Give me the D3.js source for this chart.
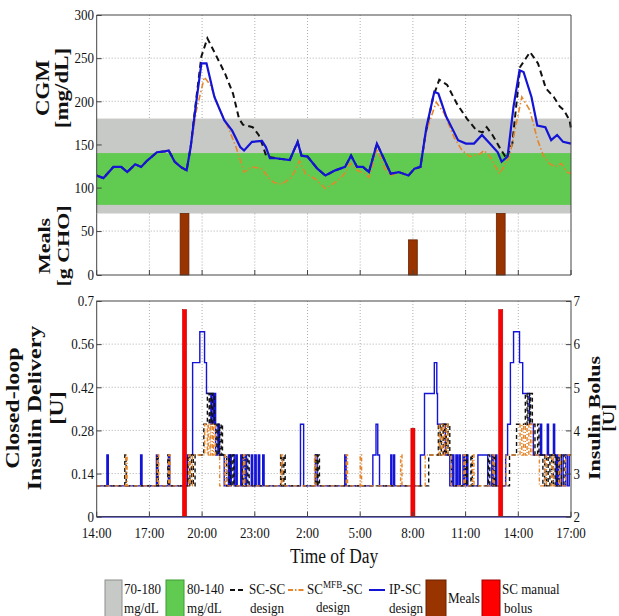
<!DOCTYPE html>
<html>
<head>
<meta charset="utf-8">
<script src="https://cdn.jsdelivr.net/npm/d3@7"></script>
<style>
  body { margin: 0; background: #fff; }
  svg { display: block; }
  text { font-family: "Liberation Serif", "Times New Roman", serif; fill: #111; }
</style>
</head>
<body>
<script>
const width = 619;
const height = 616;

// axis ticks (clock hours continue past midnight: 26 = 2:00 next day)
const hourTicks = [14, 17, 20, 23, 26, 29, 32, 35, 38, 41];
const hourLabels = ["14:00", "17:00", "20:00", "23:00", "2:00", "5:00", "8:00", "11:00", "14:00", "17:00"];
const cgmTicks = [100, 150, 200, 250, 300];
const mealTicks = [0, 50];
const deliveryTicks = [0, 0.14, 0.28, 0.42, 0.56, 0.7];
const bolusTicks = [2, 3, 4, 5, 6, 7];

// target bands [low, high]
const bandGrey = [70, 180];
const bandGreen = [80, 140];

// meals and manual boluses
const mealHours = [19, 32, 37];
const mealCarbs = [70, 40, 70];
const bolusHours = [19, 32, 37];
const bolusUnits = [6.8, 4.05, 6.8];

// CGM traces
const ipscHours = [14, 14.38, 14.95, 15.4, 15.74, 16.19, 16.53, 16.86, 17.43, 17.88, 18.1, 18.44, 18.78, 19.12, 19.35, 19.68, 19.96, 20.25, 20.7, 21.26, 21.71, 22.17, 22.39, 22.84, 23.41, 23.63, 23.86, 24.2, 24.99, 25.44, 25.66, 26, 26.56, 27.02, 27.58, 28.14, 28.48, 28.82, 29.16, 29.5, 29.95, 30.29, 30.74, 31.19, 31.75, 32.09, 32.43, 32.77, 33.22, 33.45, 33.9, 34.35, 34.57, 35.02, 35.48, 35.93, 36.38, 36.83, 37.05, 37.39, 37.73, 38.07, 38.3, 38.75, 39.08, 39.54, 39.87, 40.21, 40.55, 41];
const ipscCgm = [114, 111, 124, 124, 118, 127, 124, 131, 141, 142, 143, 130, 124, 120, 147, 201, 244, 244, 205, 178, 166, 147, 143, 153, 154, 147, 134, 134, 132, 153, 137, 136, 122, 114, 120, 124, 137, 124, 124, 118, 151, 136, 116, 118, 114, 122, 124, 170, 211, 209, 182, 164, 155, 151, 151, 161, 151, 141, 130, 136, 194, 236, 234, 205, 172, 170, 155, 161, 153, 151];

const scscHours = [14, 14.38, 14.95, 15.4, 15.74, 16.19, 16.53, 16.86, 17.43, 17.88, 18.1, 18.44, 18.78, 19.12, 19.35, 19.68, 19.96, 20.3, 20.75, 21.31, 21.76, 22.1, 22.32, 22.88, 23.22, 23.43, 23.66, 24.2, 24.99, 25.44, 25.66, 26, 26.56, 27.02, 27.58, 28.14, 28.48, 28.82, 29.16, 29.5, 29.95, 30.29, 30.74, 31.19, 31.75, 32.09, 32.43, 32.7, 33.15, 33.5, 33.95, 34.51, 35.07, 35.63, 35.97, 36.2, 36.53, 36.98, 37.32, 37.66, 38.11, 38.67, 39.12, 39.57, 40.02, 40.36, 40.59, 40.92, 41];
const scscCgm = [114, 111, 124, 124, 118, 127, 124, 131, 141, 142, 143, 130, 124, 120, 147, 205, 252, 273, 255, 232, 209, 180, 173, 170, 161, 150, 136, 134, 132, 153, 137, 136, 122, 114, 120, 124, 137, 124, 124, 118, 151, 136, 116, 118, 114, 122, 124, 160, 205, 225, 219, 197, 180, 166, 164, 170, 161, 145, 134, 151, 240, 257, 244, 215, 205, 194, 190, 178, 168];

const mfbHours = [14, 14.38, 14.95, 15.4, 15.74, 16.19, 16.53, 16.86, 17.43, 17.88, 18.1, 18.44, 18.78, 19.12, 19.35, 19.68, 20.13, 20.47, 20.92, 21.48, 21.93, 22.39, 22.84, 23.41, 23.75, 24.09, 24.54, 25.1, 25.55, 25.89, 26.45, 27.02, 27.58, 28.03, 28.44, 28.82, 29.27, 29.5, 29.95, 30.4, 30.74, 31.19, 31.75, 32.09, 32.43, 32.77, 33.33, 33.78, 34.35, 34.8, 35.25, 35.82, 36.05, 36.38, 36.94, 37.5, 37.84, 38.2, 38.65, 39.1, 39.43, 39.77, 40.1, 40.44, 40.78, 41];
const mfbCgm = [114, 111, 124, 124, 118, 127, 124, 131, 141, 142, 143, 130, 124, 120, 147, 190, 228, 219, 194, 170, 147, 118, 124, 122, 112, 106, 104, 112, 131, 116, 110, 99, 106, 114, 128, 120, 116, 112, 145, 122, 114, 118, 114, 122, 124, 166, 199, 186, 158, 143, 136, 139, 143, 136, 116, 136, 170, 205, 190, 155, 137, 128, 124, 128, 118, 116];

// closed-loop insulin delivery, [hour, U] change points (held until next point)
const ipscDelivery = [[14, 0.1], [14.58, 0.2], [14.66, 0.1], [16.5, 0.2], [16.58, 0.1], [17.4, 0.2], [17.48, 0.1], [18.08, 0.2], [18.16, 0.1],
  [19.17, 0.2], [19.46, 0.5], [19.87, 0.6], [20.14, 0.5], [20.25, 0.4], [20.5, 0.3], [20.56, 0.4], [20.66, 0.3], [20.72, 0.4], [20.77, 0.2], [20.9, 0.3], [20.98, 0.2], [21.26, 0.1],
  [21.5, 0.2], [21.58, 0.1], [21.66, 0.2], [21.83, 0.1], [21.92, 0.2], [22.0, 0.1], [22.2, 0.2], [22.28, 0.1], [22.45, 0.2], [22.53, 0.1], [22.8, 0.2], [22.88, 0.1], [23.0, 0.2], [23.08, 0.1], [23.2, 0.2], [23.28, 0.1], [23.45, 0.2], [23.53, 0.1],
  [25.6, 0.3], [25.78, 0.1], [26.45, 0.2], [26.55, 0.1], [28.12, 0.2], [28.2, 0.1], [29.72, 0.2], [29.9, 0.3], [30.0, 0.2], [30.1, 0.1], [30.74, 0.2], [30.8, 0.1], [30.9, 0.2], [30.96, 0.1],
  [32.43, 0.2], [32.66, 0.4], [33.22, 0.5], [33.36, 0.4], [33.4, 0.3], [33.85, 0.2], [34.1, 0.1],
  [34.25, 0.2], [34.33, 0.1], [34.45, 0.2], [34.53, 0.1], [34.62, 0.2], [34.7, 0.1], [34.85, 0.2], [34.93, 0.1], [35.05, 0.2], [35.13, 0.1], [35.7, 0.2], [36.26, 0.1], [36.49, 0.2], [36.57, 0.1], [36.7, 0.2], [36.78, 0.1],
  [37.28, 0.2], [37.39, 0.3], [37.55, 0.5], [37.73, 0.6], [38.07, 0.5], [38.25, 0.4], [38.63, 0.3], [38.86, 0.2], [39.26, 0.3], [39.33, 0.2], [39.65, 0.3], [39.72, 0.2], [40.0, 0.3], [40.07, 0.2],
  [40.15, 0.1], [40.22, 0.2], [40.3, 0.1], [40.45, 0.2], [40.55, 0.1], [40.7, 0.2], [40.8, 0.1], [40.9, 0.2], [41, 0.2]];

const scscDelivery = [[14, 0.1], [15.6, 0.2], [15.68, 0.1], [17.43, 0.2], [17.5, 0.1], [18.05, 0.2], [18.12, 0.1],
  [19.2, 0.2], [19.3, 0.1], [19.4, 0.2], [19.5, 0.1], [19.6, 0.2], [20.1, 0.3], [20.3, 0.4], [20.4, 0.3], [20.45, 0.4], [20.55, 0.3], [20.6, 0.4], [20.7, 0.3], [20.8, 0.2], [20.9, 0.3], [21.0, 0.2], [21.08, 0.3], [21.16, 0.2], [21.4, 0.1],
  [21.55, 0.2], [21.62, 0.1], [21.75, 0.2], [21.82, 0.1], [22.3, 0.2], [22.38, 0.1], [22.6, 0.2], [22.68, 0.1],
  [24.47, 0.2], [24.55, 0.1], [24.65, 0.2], [24.73, 0.1], [26.45, 0.2], [26.53, 0.1], [26.6, 0.2], [26.68, 0.1],
  [32.9, 0.2], [33.45, 0.3], [33.55, 0.2], [33.62, 0.3], [33.72, 0.2], [33.8, 0.3], [33.9, 0.2], [34.0, 0.3], [34.1, 0.2], [34.2, 0.1],
  [35.0, 0.2], [35.08, 0.1], [35.3, 0.2], [35.38, 0.1], [36.3, 0.2], [36.38, 0.1], [36.6, 0.2], [36.68, 0.1],
  [37.5, 0.2], [37.9, 0.3], [38.4, 0.4], [38.5, 0.3], [38.55, 0.4], [38.65, 0.3], [38.7, 0.4], [38.8, 0.3], [38.95, 0.2], [39.1, 0.3], [39.18, 0.2], [39.4, 0.1],
  [39.5, 0.2], [39.6, 0.1], [39.7, 0.2], [39.8, 0.1], [39.9, 0.2], [40.0, 0.1], [40.1, 0.2], [40.2, 0.1], [40.35, 0.2], [40.45, 0.1], [40.6, 0.2], [41, 0.2]];

const mfbDelivery = [[14, 0.1], [15.65, 0.2], [15.73, 0.1], [17.45, 0.2], [17.53, 0.1], [18.1, 0.2], [18.18, 0.1],
  [19.25, 0.2], [19.33, 0.1], [19.45, 0.2], [20.15, 0.3], [20.3, 0.2], [20.35, 0.3], [20.45, 0.2], [20.5, 0.3], [20.6, 0.2], [20.65, 0.3], [20.75, 0.2], [21.0, 0.1],
  [21.3, 0.2], [21.38, 0.1], [22.35, 0.2], [22.43, 0.1], [24.5, 0.2], [24.58, 0.1], [26.4, 0.2], [26.48, 0.1], [28.2, 0.2], [28.28, 0.1], [29.0, 0.2], [29.08, 0.1], [31.3, 0.2], [31.38, 0.1],
  [32.7, 0.2], [33.5, 0.3], [33.6, 0.2], [33.7, 0.3], [33.8, 0.2], [33.9, 0.3], [34.0, 0.2], [34.2, 0.1], [34.9, 0.2], [34.98, 0.1], [35.4, 0.2], [35.48, 0.1], [36.55, 0.2], [36.63, 0.1],
  [37.3, 0.2], [38.1, 0.3], [38.2, 0.2], [38.3, 0.3], [38.4, 0.2], [38.5, 0.3], [38.6, 0.2], [38.7, 0.3], [38.8, 0.2], [39.2, 0.1],
  [39.5, 0.2], [39.6, 0.1], [39.9, 0.2], [40.0, 0.1], [40.3, 0.2], [40.4, 0.1], [40.7, 0.2], [41, 0.2]];

const colors = {
  grey: "#c7c9c6", green: "#61cb51", blue: "#1414d6", black: "#111",
  orange: "#e5862c", meal: "#993300", bolus: "#ff0000", grid: "#9a9a9a", frame: "#444"
};
const squeeze = 0.87; // reference text is narrow

const x = d3.scaleLinear().domain([14, 41]).range([96.7, 571]);
const yCgm = d3.scaleLinear().domain([70, 300]).range([213.5, 15]);
const yMeal = d3.scaleLinear().domain([0, 70]).range([275, 213.5]);
const yDel = d3.scaleLinear().domain([0, 0.7]).range([516.7, 301]);
const yBolus = d3.scaleLinear().domain([2, 7]).range([516.7, 301]);

const svg = d3.select("body").append("svg")
  .attr("width", width).attr("height", height);

const gridV = (y0, y1) => {
  svg.append("g").selectAll("line").data(hourTicks.slice(1, -1)).join("line")
    .attr("x1", d => x(d)).attr("x2", d => x(d))
    .attr("y1", y0).attr("y2", y1)
    .attr("stroke", colors.grid).attr("stroke-width", 0.8).attr("stroke-dasharray", "1,2");
};
const gridH = (vals, scale) => {
  svg.append("g").selectAll("line").data(vals).join("line")
    .attr("x1", x.range()[0]).attr("x2", x.range()[1])
    .attr("y1", d => scale(d)).attr("y2", d => scale(d))
    .attr("stroke", colors.grid).attr("stroke-width", 0.8).attr("stroke-dasharray", "1,2");
};
const frame = (y0, y1) => {
  svg.append("rect").attr("x", x.range()[0]).attr("y", y0)
    .attr("width", x.range()[1] - x.range()[0]).attr("height", y1 - y0)
    .attr("fill", "none").attr("stroke", colors.frame).attr("stroke-width", 1);
};
const leftAxis = (scale, vals, fmt) => {
  const g = svg.append("g").attr("transform", `translate(${x.range()[0]},0)`)
    .call(d3.axisLeft(scale).tickValues(vals).tickSize(-5).tickPadding(3).tickFormat(fmt));
  g.select(".domain").remove();
  g.selectAll("line").attr("stroke", colors.frame);
  g.selectAll("text").attr("font-size", 15).attr("font-family", null)
    .attr("transform", `scale(${squeeze},1)`);
  return g;
};
const bottomTicks = (y0) => {
  svg.append("g").selectAll("line").data(hourTicks).join("line")
    .attr("x1", d => x(d)).attr("x2", d => x(d))
    .attr("y1", y0).attr("y2", y0 - 5).attr("stroke", colors.frame);
};
const narrowText = (px, py, str, size, opts = {}) => {
  const g = svg.append("g").attr("transform", `translate(${px},${py}) scale(${squeeze},1)`);
  const t = g.append("text").attr("font-size", size).attr("text-anchor", opts.anchor || "start");
  if (opts.weight) t.attr("font-weight", opts.weight);
  t.text(str);
  return t;
};
const sideLabel = (px, py, str, size) => {
  svg.append("g").attr("transform", `translate(${px},${py}) scale(0.8,1) rotate(-90)`)
    .append("text").attr("font-size", size).attr("font-weight", "bold")
    .attr("text-anchor", "middle").attr("dominant-baseline", "central").text(str);
};

// ---------- CGM panel ----------
gridV(15, 213.5);
gridH([200, 250], yCgm);
svg.append("rect").attr("x", x(14)).attr("width", x(41) - x(14))
  .attr("y", yCgm(bandGrey[1])).attr("height", yCgm(bandGrey[0]) - yCgm(bandGrey[1]))
  .attr("fill", colors.grey);
svg.append("rect").attr("x", x(14)).attr("width", x(41) - x(14))
  .attr("y", yCgm(bandGreen[1])).attr("height", yCgm(bandGreen[0]) - yCgm(bandGreen[1]))
  .attr("fill", colors.green);

const cgmLine = d3.line().x(d => x(d[0])).y(d => yCgm(d[1]));
svg.append("path").datum(d3.zip(scscHours, scscCgm)).attr("d", cgmLine)
  .attr("fill", "none").attr("stroke", colors.black).attr("stroke-width", 2).attr("stroke-dasharray", "6,4");
svg.append("path").datum(d3.zip(mfbHours, mfbCgm)).attr("d", cgmLine)
  .attr("fill", "none").attr("stroke", colors.orange).attr("stroke-width", 1.6).attr("stroke-dasharray", "6,2.5,1.5,2.5");
svg.append("path").datum(d3.zip(ipscHours, ipscCgm)).attr("d", cgmLine)
  .attr("fill", "none").attr("stroke", colors.blue).attr("stroke-width", 2.2);

svg.append("path")
  .attr("d", `M${x(14)},${yCgm(70)}V15H${x(41)}V${yCgm(70)}`)
  .attr("fill", "none").attr("stroke", colors.frame);
leftAxis(yCgm, cgmTicks, d3.format("d"));

// ---------- meals panel ----------
gridV(213.5, 275);
gridH([50], yMeal);
const barW = x(14.5) - x(14);
svg.append("g").selectAll("rect").data(d3.zip(mealHours, mealCarbs)).join("rect")
  .attr("x", d => x(d[0]) - barW / 2).attr("width", barW)
  .attr("y", d => yMeal(d[1])).attr("height", d => yMeal(0) - yMeal(d[1]))
  .attr("fill", colors.meal).attr("stroke", "#6a2200").attr("stroke-width", 0.8);
svg.append("path")
  .attr("d", `M${x(14)},213.5V275H${x(41)}V213.5`)
  .attr("fill", "none").attr("stroke", colors.frame);
bottomTicks(275);
leftAxis(yMeal, mealTicks, d3.format("d"));

// ---------- insulin panel ----------
gridV(301, 516.7);
gridH(deliveryTicks.slice(1, -1), yDel);
const stepLine = d3.line().x(d => x(d[0])).y(d => yDel(d[1])).curve(d3.curveStepAfter);
svg.append("line").attr("x1", x(14)).attr("x2", x(41))
  .attr("y1", yDel(0)).attr("y2", yDel(0)).attr("stroke", colors.blue).attr("stroke-width", 1.6);
svg.append("path").datum(ipscDelivery).attr("d", stepLine)
  .attr("fill", "none").attr("stroke", colors.blue).attr("stroke-width", 1.4);
svg.append("path").datum(scscDelivery).attr("d", stepLine)
  .attr("fill", "none").attr("stroke", colors.black).attr("stroke-width", 1.4).attr("stroke-dasharray", "4,3");
svg.append("path").datum(mfbDelivery).attr("d", stepLine)
  .attr("fill", "none").attr("stroke", colors.orange).attr("stroke-width", 1.4).attr("stroke-dasharray", "4,2,1,2");

const bolW = x(14.23) - x(14);
svg.append("g").selectAll("rect").data(d3.zip(bolusHours, bolusUnits)).join("rect")
  .attr("x", d => x(d[0]) - bolW / 2).attr("width", bolW)
  .attr("y", d => yBolus(d[1])).attr("height", d => yBolus(2) - yBolus(d[1]))
  .attr("fill", colors.bolus).attr("stroke", "#b00000").attr("stroke-width", 0.6);

frame(301, 516.7);
bottomTicks(516.7);
leftAxis(yDel, deliveryTicks, d => d === 0 ? "0" : d3.format(".2~f")(d));
const ra = svg.append("g").attr("transform", `translate(${x.range()[1]},0)`)
  .call(d3.axisRight(yBolus).tickValues(bolusTicks).tickSize(-5).tickPadding(3).tickFormat(d3.format("d")));
ra.select(".domain").remove();
ra.selectAll("line").attr("stroke", colors.frame);
ra.selectAll("text").attr("font-size", 15).attr("font-family", null)
  .attr("transform", `scale(${squeeze},1)`);

// x tick labels
hourTicks.forEach((h, i) => narrowText(x(h), 538, hourLabels[i], 15, { anchor: "middle" }));
narrowText(334, 563, "Time of Day", 20, { anchor: "middle" });

// axis titles
sideLabel(43, 88, "CGM", 23);
sideLabel(62, 88, "[mg/dL]", 23);
sideLabel(44, 246, "Meals", 22);
sideLabel(63, 246, "[g CHO]", 22);
sideLabel(13, 408, "Closed-loop", 24);
sideLabel(35, 408, "Insulin Delivery", 24);
sideLabel(57, 408, "[U]", 24);
sideLabel(594, 418, "Insulin Bolus", 22);
sideLabel(609, 418, "[U]", 20);

// ---------- legend ----------
const lg = svg.append("g");
const box = (x0, w, fill, stroke) => lg.append("rect").attr("x", x0).attr("y", 580).attr("width", w).attr("height", 40)
  .attr("fill", fill).attr("stroke", stroke).attr("stroke-width", 1);
const seg = (x0, x1, stroke, dash, sw) => lg.append("line").attr("x1", x0).attr("x2", x1).attr("y1", 590).attr("y2", 590)
  .attr("stroke", stroke).attr("stroke-width", sw).attr("stroke-dasharray", dash);

box(105, 17, colors.grey, "#8d8f8c");
narrowText(124, 594, "70-180", 15);
narrowText(124, 613, "mg/dL", 15);
box(166, 18, colors.green, "#3f9a33");
narrowText(187, 594, "80-140", 15);
narrowText(187, 613, "mg/dL", 15);
seg(230, 246, colors.black, "5,3", 2.2);
narrowText(249, 594, "SC-SC", 15);
narrowText(250, 613, "design", 15);
seg(288, 305, colors.orange, "5,2,1.5,2", 2);
const mt = narrowText(307, 594, "SC", 15);
mt.append("tspan").attr("dy", -6).attr("font-size", 10.5).text("MFB");
mt.append("tspan").attr("dy", 6).text("-SC");
narrowText(316, 612, "design", 15);
seg(369, 385, colors.blue, null, 2);
narrowText(389, 594, "IP-SC", 15);
narrowText(389, 613, "design", 15);
box(426, 20, colors.meal, "#6a2200");
narrowText(448, 603, "Meals", 15);
box(482, 18, colors.bolus, "#a00000");
narrowText(502, 594, "SC manual", 15);
narrowText(504, 613, "bolus", 15);
</script>
</body>
</html>
